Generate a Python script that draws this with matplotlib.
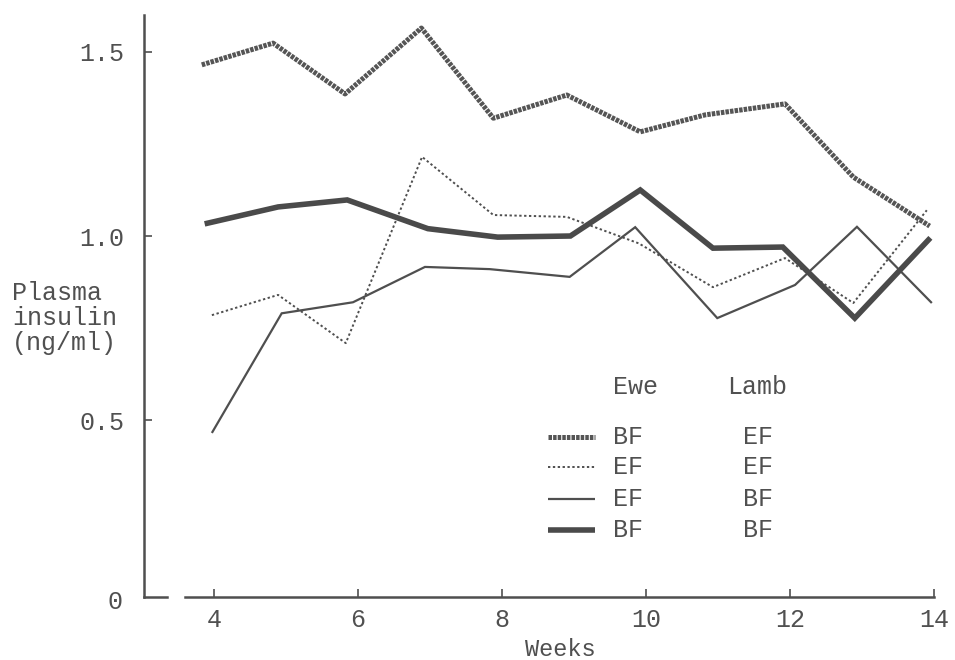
import matplotlib
matplotlib.use("Agg")
import matplotlib.pyplot as plt
from matplotlib.lines import Line2D

"""DATA (read off the scanned figure)"""
# Ewe BF / Lamb EF
wk_bf_ef = [3.83, 4.82, 5.82, 6.88, 7.88, 8.9, 9.92, 10.82, 11.93, 12.88, 13.94]
ins_bf_ef = [1.465, 1.524, 1.386, 1.565, 1.32, 1.383, 1.283, 1.329, 1.359, 1.16, 1.027]
# Ewe EF / Lamb EF
wk_ef_ef = [3.97, 4.89, 5.83, 6.89, 7.88, 8.9, 9.9, 10.93, 11.93, 12.88, 13.9]
ins_ef_ef = [0.785, 0.84, 0.709, 1.215, 1.057, 1.052, 0.98, 0.861, 0.94, 0.818, 1.07]
# Ewe EF / Lamb BF
wk_ef_bf = [3.97, 4.94, 5.93, 6.93, 7.83, 8.94, 9.85, 10.99, 12.07, 12.93, 13.97]
ins_ef_bf = [0.465, 0.79, 0.82, 0.916, 0.91, 0.889, 1.024, 0.777, 0.867, 1.025, 0.818]
# Ewe BF / Lamb BF
wk_bf_bf = [3.87, 4.89, 5.85, 6.97, 7.94, 8.95, 9.92, 10.93, 11.9, 12.9, 13.95]
ins_bf_bf = [1.033, 1.079, 1.098, 1.02, 0.997, 1.0, 1.125, 0.967, 0.97, 0.777, 0.995]

xticks = [4, 6, 8, 10, 12, 14]
yticks = [0.5, 1.0, 1.5]
ytick_labels = ["0.5", "1.0", "1.5"]

legend_rows = [("BF", "EF"), ("EF", "EF"), ("EF", "BF"), ("BF", "BF")]

INK = "#4f4f4f"
TXT = "#505050"
FONT = "Liberation Mono"
plt.rcParams['font.family'] = [FONT, 'DejaVu Sans Mono']

fig = plt.figure(figsize=(9.55, 6.6), dpi=100)
ax = fig.add_axes([130/955, 50/660, 815/955, 600/660])
ax.set_xlim(2.833, 14.153)
ax.set_ylim(-0.016, 1.614)

# series styles
styles = [
    (wk_bf_ef, ins_bf_ef, dict(lw=3.6, ls=(0, (0.7, 0.22)), color="#555555")),
    (wk_ef_ef, ins_ef_ef, dict(lw=1.4, ls=(0, (1.2, 1.3)), color=INK)),
    (wk_ef_bf, ins_ef_bf, dict(lw=1.6, ls="-", color=INK)),
    (wk_bf_bf, ins_bf_bf, dict(lw=4.0, ls="-", color="#4a4a4a")),
]
for wk, ins, st in styles:
    ax.plot(wk, ins, solid_capstyle="butt", dash_capstyle="butt",
            solid_joinstyle="miter", **st)

# axes drawn like the hand-made original
for s in ["top", "right"]:
    ax.spines[s].set_visible(False)
ax.spines["left"].set_position(("data", 3.03))
ax.spines["left"].set_bounds(0.02, 1.60)
ax.spines["bottom"].set_position(("data", 0.02))
ax.spines["bottom"].set_bounds(3.6, 14.0)
for s in ["left", "bottom"]:
    ax.spines[s].set_linewidth(1.8)
    ax.spines[s].set_color(INK)
ax.plot([3.03, 3.35], [0.02, 0.02], color=INK, lw=1.8, clip_on=False)

ax.set_xticks(xticks)
ax.set_xticklabels([str(t) for t in xticks], fontsize=18)
ax.set_yticks(yticks)
ax.set_yticklabels(ytick_labels, fontsize=18)
ax.tick_params(axis="x", direction="in", length=6, width=1.2, colors=INK, pad=8,
               labelcolor=TXT)
ax.tick_params(axis="y", direction="in", length=6, width=1.2, colors=INK, pad=14,
               labelcolor=TXT)
fig.text(115/955, 1 - 602/660, "0", fontsize=18, color=TXT,
         ha="center", va="center")

fig.text(12/955, 1 - 318/660, "Plasma\ninsulin\n(ng/ml)", fontsize=18,
         color=TXT, ha="left", va="center", linespacing=1.05)
fig.text(560/955, 1 - 650/660, "Weeks", fontsize=17, color=TXT,
         ha="center", va="center")

"""LEGEND"""
fig.text(613/955, 1 - 387/660, "Ewe", fontsize=18, color=TXT, va="center")
fig.text(727/955, 1 - 387/660, "Lamb", fontsize=18, color=TXT, va="center")
row_y = [437, 467, 499, 530]
for (ewe, lamb), y, (_, _, st) in zip(legend_rows, row_y, styles):
    yf = 1 - y/660
    fig.add_artist(Line2D([548/955, 595/955], [yf, yf], transform=fig.transFigure,
                          solid_capstyle="butt", dash_capstyle="butt", **st))
    fig.text(613/955, yf, ewe, fontsize=18, color=TXT, va="center")
    fig.text(743/955, yf, lamb, fontsize=18, color=TXT, va="center")

fig.savefig("out.png", dpi=100, facecolor="white")
